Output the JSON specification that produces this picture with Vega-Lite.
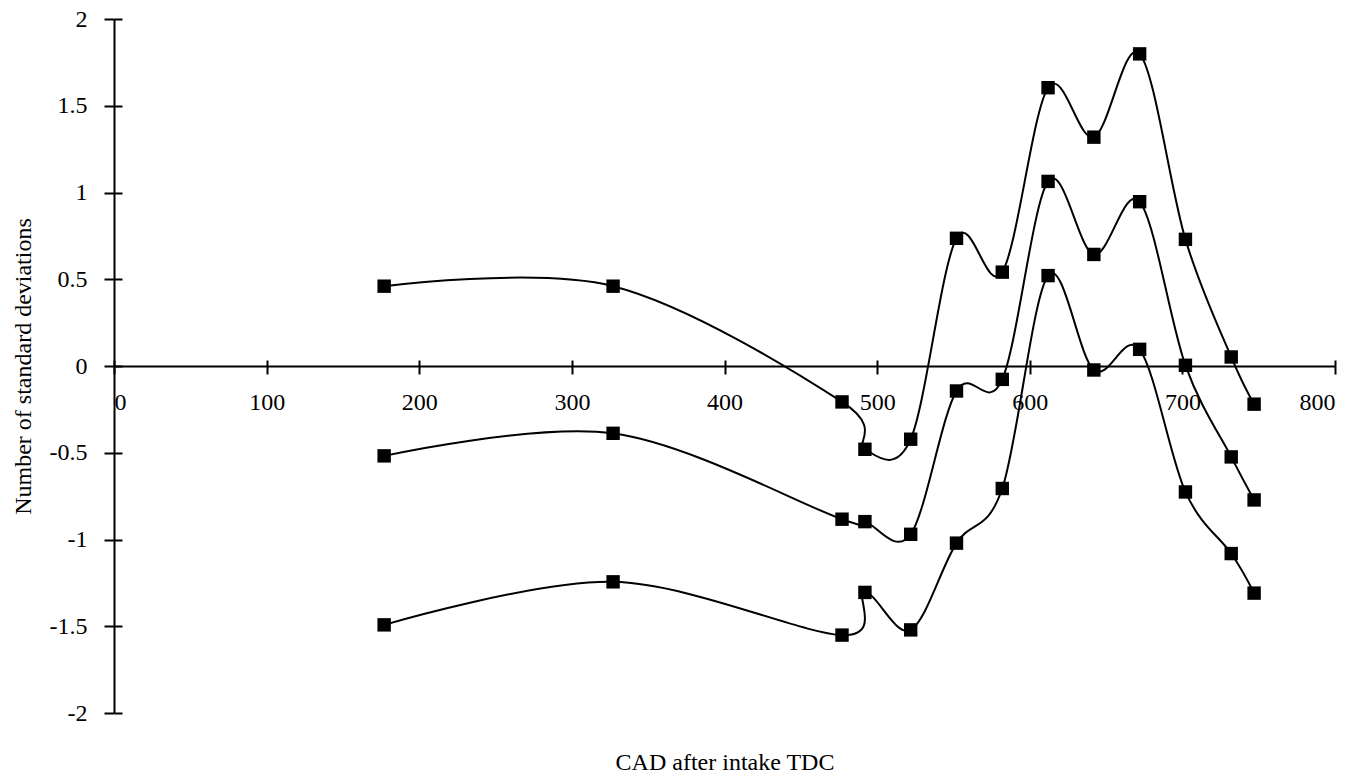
{
  "$schema": "https://vega.github.io/schema/vega-lite/v6.json",
  "autosize": {"type": "none"},
  "padding": {"left": 114, "top": 19, "right": 34, "bottom": 64},
  "width": 1221,
  "height": 694,
  "background": "white",
  "config": {
    "view": {"stroke": null},
    "font": "Liberation Serif",
    "axis": {
      "grid": false,
      "domainColor": "black",
      "domainWidth": 2,
      "tickColor": "black",
      "tickWidth": 2,
      "labelColor": "black",
      "labelFont": "Liberation Serif",
      "labelFontSize": 24,
      "titleFont": "Liberation Serif",
      "titleFontSize": 24,
      "titleFontWeight": "normal",
      "titleColor": "black"
    }
  },
  "data": {
    "values": [
      {"series": "upper", "cad": 177, "sd": 0.46},
      {"series": "upper", "cad": 327, "sd": 0.46},
      {"series": "upper", "cad": 477, "sd": -0.207},
      {"series": "upper", "cad": 492, "sd": -0.48},
      {"series": "upper", "cad": 522, "sd": -0.422},
      {"series": "upper", "cad": 552, "sd": 0.736},
      {"series": "upper", "cad": 582, "sd": 0.541},
      {"series": "upper", "cad": 612, "sd": 1.604},
      {"series": "upper", "cad": 642, "sd": 1.319},
      {"series": "upper", "cad": 672, "sd": 1.799},
      {"series": "upper", "cad": 702, "sd": 0.73},
      {"series": "upper", "cad": 732, "sd": 0.052},
      {"series": "upper", "cad": 747, "sd": -0.22},
      {"series": "middle", "cad": 177, "sd": -0.518},
      {"series": "middle", "cad": 327, "sd": -0.388},
      {"series": "middle", "cad": 477, "sd": -0.883},
      {"series": "middle", "cad": 492, "sd": -0.897},
      {"series": "middle", "cad": 522, "sd": -0.97},
      {"series": "middle", "cad": 552, "sd": -0.144},
      {"series": "middle", "cad": 582, "sd": -0.077},
      {"series": "middle", "cad": 612, "sd": 1.064},
      {"series": "middle", "cad": 642, "sd": 0.643},
      {"series": "middle", "cad": 672, "sd": 0.947},
      {"series": "middle", "cad": 702, "sd": 0.004},
      {"series": "middle", "cad": 732, "sd": -0.524},
      {"series": "middle", "cad": 747, "sd": -0.772},
      {"series": "lower", "cad": 177, "sd": -1.492},
      {"series": "lower", "cad": 327, "sd": -1.244},
      {"series": "lower", "cad": 477, "sd": -1.551},
      {"series": "lower", "cad": 492, "sd": -1.305},
      {"series": "lower", "cad": 522, "sd": -1.521},
      {"series": "lower", "cad": 552, "sd": -1.021},
      {"series": "lower", "cad": 582, "sd": -0.706},
      {"series": "lower", "cad": 612, "sd": 0.521},
      {"series": "lower", "cad": 642, "sd": -0.023},
      {"series": "lower", "cad": 672, "sd": 0.096},
      {"series": "lower", "cad": 702, "sd": -0.726},
      {"series": "lower", "cad": 732, "sd": -1.081},
      {"series": "lower", "cad": 747, "sd": -1.309}
    ]
  },
  "layer": [
    {
      "mark": {"type": "line", "interpolate": "cardinal", "color": "black", "strokeWidth": 2},
      "encoding": {
        "x": {
          "field": "cad",
          "type": "quantitative",
          "scale": {"domain": [0, 800], "nice": false, "zero": false},
          "axis": {
            "orient": "bottom",
            "offset": -347,
            "values": [0, 100, 200, 300, 400, 500, 600, 700, 800],
            "format": "d",
            "tickSize": 8,
            "labelPadding": 16,
            "title": "CAD after intake TDC",
            "titlePadding": 336
          }
        },
        "y": {
          "field": "sd",
          "type": "quantitative",
          "scale": {"domain": [-2, 2], "nice": false, "zero": false},
          "axis": {
            "orient": "left",
            "values": [-2, -1.5, -1, -0.5, 0, 0.5, 1, 1.5, 2],
            "format": "~g",
            "tickSize": 10,
            "labelPadding": 17,
            "labelExpr": "replace(datum.label, '\u2212', '-')",
            "title": "Number of standard deviations",
            "titlePadding": 14
          }
        },
        "detail": {"field": "series", "type": "nominal"}
      }
    },
    {
      "mark": {"type": "point", "shape": "square", "filled": true, "color": "black", "opacity": 1, "size": 180},
      "encoding": {
        "x": {
          "field": "cad",
          "type": "quantitative",
          "scale": {"domain": [0, 800], "nice": false, "zero": false},
          "axis": {
            "orient": "top",
            "offset": -347,
            "values": [0, 100, 200, 300, 400, 500, 600, 700, 800],
            "tickSize": 6,
            "labels": false,
            "domain": false,
            "title": null
          }
        },
        "y": {
          "field": "sd",
          "type": "quantitative",
          "scale": {"domain": [-2, 2], "nice": false, "zero": false},
          "axis": {
            "orient": "right",
            "offset": -1221,
            "values": [-2, -1.5, -1, -0.5, 0, 0.5, 1, 1.5, 2],
            "tickSize": 8,
            "labels": false,
            "domain": false,
            "title": null
          }
        },
        "detail": {"field": "series", "type": "nominal"}
      }
    }
  ],
  "resolve": {"axis": {"x": "independent", "y": "independent"}}
}
